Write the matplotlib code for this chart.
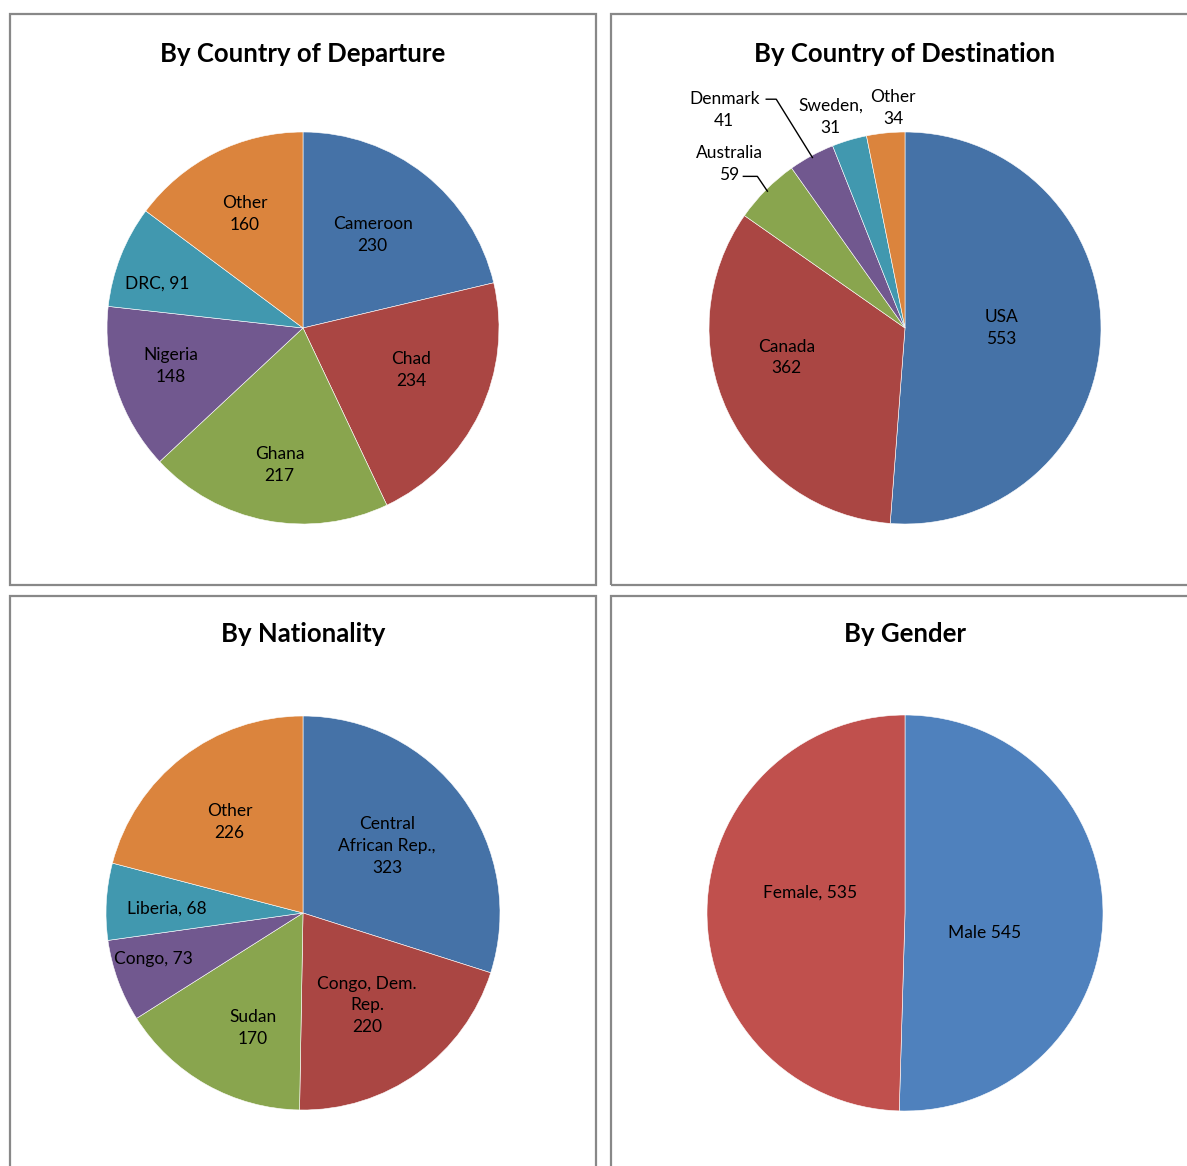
import matplotlib
matplotlib.use("Agg")
import matplotlib.pyplot as plt
import matplotlib.patches as mpatches
import numpy as np

plt.rcParams["font.family"] = ["Lato", "DejaVu Sans"]

W, H = 1187, 1166
DPI = 100

# --- data -------------------------------------------------------------
dep_titulo = "By Country of Departure"
dep_labels = ["Cameroon\n230", "Chad\n234", "Ghana\n217", "Nigeria\n148", "DRC, 91", "Other\n160"]
dep_values = [230, 234, 217, 148, 91, 160]

dest_titulo = "By Country of Destination"
dest_labels = ["USA\n553", "Canada\n362", "Australia\n59", "Denmark\n41", "Sweden,\n31", "Other\n34"]
dest_values = [553, 362, 59, 41, 31, 34]

nat_titulo = "By Nationality"
nat_labels = ["Central\nAfrican Rep.,\n323", "Congo, Dem.\nRep.\n220", "Sudan\n170",
              "Congo, 73", "Liberia, 68", "Other\n226"]
nat_values = [323, 220, 170, 73, 68, 226]

gen_titulo = "By Gender"
gen_labels = ["Male 545", "Female, 535"]
gen_values = [545, 535]

# --- styles -----------------------------------------------------------
CORES_2007 = ["#4572A7", "#AA4643", "#89A54E", "#71588F", "#4198AF", "#DB843D"]
CORES_GEN = ["#4F81BD", "#C0504D"]
BORDA = "#888888"


def px_para_fig(x0, y0, x1, y1):
    return [x0 / W, 1 - y1 / H, (x1 - x0) / W, (y1 - y0) / H]


def desenhar_borda(fig, x0, y0, x1, y1):
    ret = mpatches.Rectangle((x0 / W, 1 - y1 / H), (x1 - x0) / W, (y1 - y0) / H,
                             transform=fig.transFigure, fill=False,
                             edgecolor=BORDA, linewidth=1.6, clip_on=False)
    fig.add_artist(ret)


def desenhar_pizza(fig, cx, cy, raio, titulo, valores, rotulos, cores,
                   dist_rotulo, ajuste_ang, linhas_guia=None):
    ax = fig.add_axes(px_para_fig(cx - raio, cy - raio, cx + raio, cy + raio))
    fatias, _ = ax.pie(valores, colors=cores, startangle=90, counterclock=False,
                       radius=1.0, wedgeprops=dict(edgecolor="white", linewidth=0.4))
    ax.set_xlim(-1, 1)
    ax.set_ylim(-1, 1)
    ax.set_aspect("equal")
    ax.axis("off")

    for i, (f, txt) in enumerate(zip(fatias, rotulos)):
        meio = np.deg2rad((f.theta1 + f.theta2) / 2 + ajuste_ang[i])
        d = dist_rotulo[i]
        tx, ty = d * np.cos(meio), d * np.sin(meio) - 1.5 / raio
        ax.text(tx, ty, txt, ha="center", va="center", fontsize=12.5,
                color="black", linespacing=1.45, clip_on=False)
        if linhas_guia and i in linhas_guia:
            (sx, sy), (ex, ey) = linhas_guia[i]
            m = np.deg2rad((f.theta1 + f.theta2) / 2)
            ax.plot([tx + sx / raio, tx + ex / raio, 0.99 * np.cos(m)],
                    [ty - sy / raio, ty - ey / raio, 0.99 * np.sin(m)],
                    color="black", linewidth=1.0, clip_on=False)

    fig.text(cx / W, 1 - 53.5 / H if cy < 600 else 1 - 634.5 / H, titulo,
             ha="center", va="center", fontsize=18.5, fontweight="bold")


fig = plt.figure(figsize=(W / DPI, H / DPI), dpi=DPI)
fig.patch.set_facecolor("white")

desenhar_borda(fig, 10, 14, 596, 585)
desenhar_borda(fig, 611, 14, 1200, 585)
desenhar_borda(fig, 10, 596, 596, 1190)
desenhar_borda(fig, 611, 596, 1200, 1190)

desenhar_pizza(fig, 303, 328, 196, dep_titulo, dep_values, dep_labels, CORES_2007,
               dist_rotulo=[0.60, 0.59, 0.70, 0.70, 0.78, 0.66],
               ajuste_ang=[2, 5, 1, -3, 4, 0])

desenhar_pizza(fig, 905, 328, 196, dest_titulo, dest_values, dest_labels, CORES_2007,
               dist_rotulo=[0.49, 0.62, 1.23, 1.45, 1.15, 1.13],
               ajuste_ang=[3, -12, 1.6, 11, 2.7, -2.6],
               linhas_guia={2: ((14, 12), (28, 12)), 3: ((42, -11), (52, -11))})

desenhar_pizza(fig, 303, 913, 197, nat_titulo, nat_values, nat_labels, CORES_2007,
               dist_rotulo=[0.55, 0.565, 0.63, 0.79, 0.69, 0.60],
               ajuste_ang=[3, -0.5, 5.5, -3.5, 1, 0.7])

desenhar_pizza(fig, 905, 913, 198, gen_titulo, gen_values, gen_labels, CORES_GEN,
               dist_rotulo=[0.41, 0.49],
               ajuste_ang=[-12, -12])

fig.savefig("out.png", dpi=DPI)
